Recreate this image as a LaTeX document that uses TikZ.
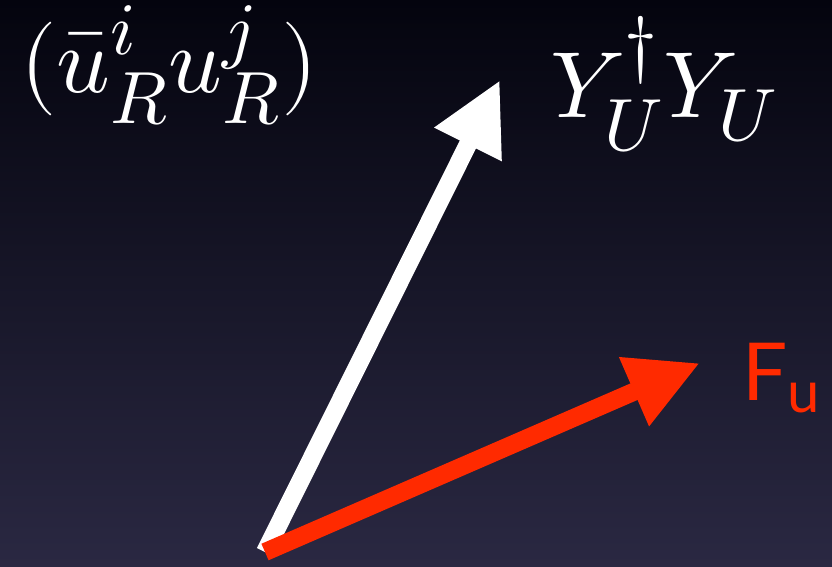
\documentclass[tikz,border=0pt]{standalone}
\usepackage{fontspec}
\usepackage{unicode-math}
\setmathfont{Latin Modern Math}
\newfontfamily\gillfont{Lato}
\DeclareMathSizes{94}{94}{74}{58}
\usetikzlibrary{arrows.meta, positioning}
\definecolor{bgtop}{HTML}{04040E}
\definecolor{bgbottom}{HTML}{2A2842}
\definecolor{fured}{HTML}{FF2A00}
\newcommand{\lowsup}[1]{^{\raisebox{3pt}[0pt][0pt]{$\scriptstyle #1$}}}

\begin{document}
\begin{tikzpicture}[x=1pt, y=-1pt,
  every node/.style={inner sep=0pt, text=white},
  bigmath/.style={font=\fontsize{94}{100}\selectfont},
  vec/.style={line width=18pt, -{Triangle[length=72pt, width=70pt]}},
]

% Background
\shade[top color=bgtop, bottom color=bgbottom] (0,0) rectangle (832,566);
\useasboundingbox (0,0) rectangle (832,566);

% Origin of both vectors
\coordinate (o) at (265,552);
\coordinate (yy) at (500,80);
\coordinate (fu) at (700,363);

% Vectors
\draw[vec, white] (o) -- (yy);
\draw[vec, fured] (o) -- (fu);

% Labels
\node[bigmath, anchor=base west] (bilin) at (20,92) {$(\bar{u}\lowsup{i}_R u\lowsup{j}_R)$};
\node[bigmath, anchor=base west] (yuk) at (550,117) {$Y_U^\dagger Y_U$};
\node[font=\gillfont\fontsize{80}{80}\selectfont, text=fured, anchor=base west] (flav) at (742,400)
  {F\raisebox{-12pt}{\fontsize{58}{58}\selectfont u}};

\end{tikzpicture}
\end{document}
